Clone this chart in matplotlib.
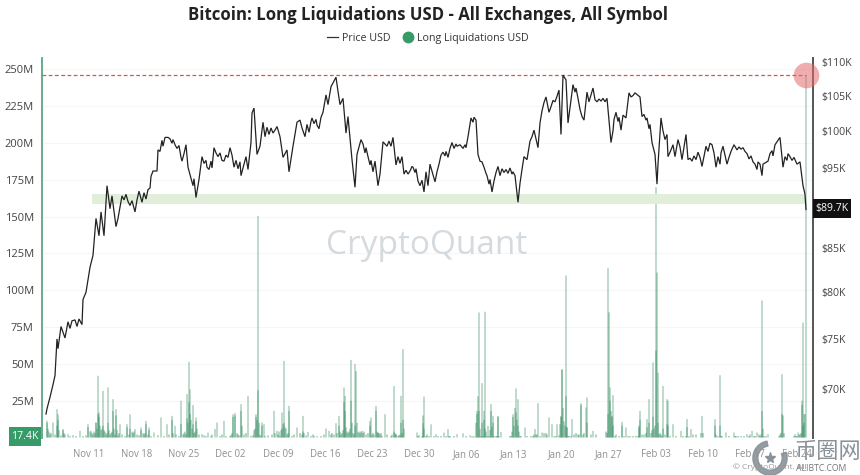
import datetime as dt
import matplotlib
matplotlib.use("Agg")
import matplotlib.pyplot as plt
import matplotlib.dates as mdates
from matplotlib.lines import Line2D
from matplotlib.patches import Wedge, Rectangle
from matplotlib.ticker import FuncFormatter

FIG_W, FIG_H = 860, 475
START = dt.datetime(2024, 11, 4, 15)
STEP_DAYS = 1 / 6.745          # one sample on the time index, in days

# ---- data: price (thousand USD) on the time index ----
price_t = [0,1,4,7,9,11,12,15,19,22,24,29,36,37,40,44,47,50,53,55,58,61,64,66,70,72,76,82,89,93,96,102,107,111,112,119,122,129,136,140,
142,147,150,153,156,161,163,168,172,178,184,188,194,195,200,202,205,206,208,211,214,217,219,229,231,234,237,241,243,247,251,254,259,266,271,277,280,282,285,290,
294,297,300,302,306,309,311,315,322,327,329,332,334,337,341,347,350,356,358,367,372,378,380,382,384,389,397,402,406,411,414,417,422,425,430,432,436,441,446,452,
454,467,469,472,476,478,481,486,488,492,494,500,503,509,513,515,517,520,522,527,532,538,541,543,547,549,561,565,570,575,577,580,583,589,594,596,601,606,609,611,
612,615,619,621,622,627,629,632,636,640,642,646,652,656,660,666,670,677,681,688,691,699,709,714,716,717,722,729,734,737,739,744,751,754,757,759,760]
price_k = [67.6,68.1,69.2,70.4,71.3,75.0,74.0,76.3,75.1,76.8,76.1,77.0,76.5,79.2,80.0,82.8,84.2,88.6,86.5,89.4,86.5,92.7,89.8,91.4,87.6,88.6,91.4,90.7,89.4,92.0,90.6,92.2,94.6,94.6,97.4,99.1,99.1,98.1,95.9,98.1,
95.1,92.7,91.2,93.5,96.5,95.1,94.8,97.7,96.5,95.9,97.7,95.1,95.8,94.0,96.5,94.8,98.4,102.5,103.2,96.8,97.9,101.2,99.2,100.1,100.6,99.2,96.4,97.4,94.5,97.9,101.2,101.5,99.2,101.8,100.8,102.6,105.1,103.7,106.3,107.7,
103.7,104.6,99.7,102.0,96.1,92.5,96.8,98.8,96.5,94.5,95.9,92.7,94.2,98.5,97.9,99.1,95.4,96.5,94.2,95.1,93.3,91.9,94.5,92.7,95.5,93.2,97.1,96.4,98.4,97.9,98.1,97.6,99.2,101.8,101.5,96.8,95.8,94.0,91.9,95.2,
94.0,94.5,94.0,90.6,94.8,96.5,96.1,99.2,100.1,97.7,101.1,104.8,102.6,104.1,105.8,99.5,108.0,107.3,101.1,106.6,104.6,101.5,105.5,104.1,106.1,104.4,104.6,98.4,102.6,100.1,102.2,101.8,105.4,105.4,104.8,102.0,101.8,98.4,96.8,92.9,
95.5,101.8,98.8,99.5,96.5,98.1,96.5,98.8,96.1,99.5,96.1,95.9,97.1,95.2,97.9,98.1,95.1,97.9,95.5,98.1,97.4,97.2,95.5,95.5,94.0,95.5,95.9,98.1,99.1,95.1,96.5,96.5,95.5,95.8,92.7,91.6,89.7]

# smaller swings read between the points above
swing_t = [26,31,33,78,80,84,86,91,98,100,104,105,114,116,117,124,126,127,131,133,135,138,148,158,160,165,166,170,174,176,180,182,186,190,192,
221,223,225,227,256,261,263,265,268,270,273,275,292,317,319,320,324,325,343,345,352,354,360,362,364,366,369,370,374,376,391,393,395,399,400,404,408,410,419,420,427,428,434,438,440,443,444,448,450,
456,458,460,462,464,466,474,483,484,490,496,498,505,507,511,529,530,534,536,551,553,555,557,559,567,568,572,573,585,587,598,600,603,604,617,625,634,644,648,650,654,662,664,668,672,674,675,679,683,685,
693,695,697,701,703,705,707,711,712,724,726,727,741,742,746,748]
swing_k = [76.9,76.3,77.1,90.9,91.6,90.2,90.8,90.9,91.8,91.0,92.4,93.9,97.2,98.7,97.9,98.9,98.3,98.8,97.6,98.0,96.4,96.9,93.6,95.6,96.0,95.9,95.0,97.0,97.0,96.0,96.7,96.4,96.7,96.0,94.9,
100.5,99.5,100.4,99.7,100.4,100.9,99.8,101.3,101.0,101.6,100.3,101.9,105.6,98.2,97.0,97.7,95.4,96.0,98.6,97.9,96.5,95.6,94.7,94.2,94.6,95.2,94.4,94.9,92.7,93.4,94.5,95.5,96.7,96.6,97.2,97.6,97.6,98.2,98.1,97.7,101.2,101.9,95.9,95.1,94.3,92.9,93.5,93.3,94.4,
94.9,94.4,94.8,94.3,95.0,94.2,93.0,97.7,98.6,98.9,102.8,104.0,103.4,104.3,104.9,105.5,106.1,103.0,102.0,104.1,104.5,104.2,104.6,104.1,100.0,101.6,101.3,101.9,104.8,105.0,102.3,101.5,100.3,100.9,100.0,97.4,97.8,96.3,96.6,96.1,96.4,97.2,98.3,97.0,96.5,95.5,97.0,96.7,96.4,97.2,
97.8,97.5,97.7,96.9,96.2,96.6,95.8,94.8,95.8,96.9,97.3,96.6,96.0,96.9,96.0,96.4]

# ---- data: long liquidations (million USD) ----
liq_t = [1,7,11,12,17,22,34,42,45,50,52,53,57,62,67,70,74,81,84,89,95,100,103,108,115,121,126,129,135,141,143,144,147,150,156,162,169,171,178,184,
187,189,195,202,210,212,216,218,228,231,236,238,243,251,257,262,271,280,283,290,293,298,299,305,309,312,316,324,325,330,332,339,348,355,357,371,377,378,385,390,
398,402,411,417,424,431,433,436,438,439,442,445,447,452,455,467,470,472,479,489,492,496,503,506,511,515,516,520,521,526,535,540,541,547,562,564,566,567,576,580,
593,594,601,603,607,610,612,617,621,622,627,635,641,645,656,669,674,680,688,701,706,711,716,722,736,749,752,756,757,758,760]
liq_m = [11.3,10.2,19.2,15.8,5.7,2.3,4.5,9,4.5,10.2,41.9,17,31.7,34,26,19.2,9,9,15.8,5.7,6.8,11.3,6.8,3.4,13.6,9,14.7,7.9,25,29.4,51.4,32.8,22,13.6,2.3,3.4,5.7,10.2,11.3,1.1,
15.8,16.5,22.6,28.3,15.8,150.4,10.2,9,18.1,4.5,17,52,21.5,6.8,14.7,3.8,1.1,6.1,4.5,9.7,14.7,34,28.3,52.7,49.8,3.4,4.5,11.3,13.6,21.5,3.4,15.8,35,28.3,60,3.4,9.7,27.8,9,2.3,
3.4,5.7,2.3,2.9,1.6,18.1,84.9,36.9,18.1,85.4,7.9,22.6,14.7,14.7,3.8,15.8,33.3,26,6.8,5.7,23.3,3.4,13.6,9,9,14.7,46.4,110,6.8,12.5,23.3,20.4,27.2,4.5,115,34,14.7,28.8,10.6,6.8,
6.8,18.1,12.5,26,51,170,44,35,26,25,9,4.5,12.5,5.7,14.7,12.5,42.3,3.4,3.4,2.3,4.5,3.4,93,2.3,43,2.3,3.4,25,78,15.8,246]

# darker, denser part of the same bars
core_t = [1,2,3,11,12,13,17,18,42,44,48,50,51,52,53,54,55,56,57,58,62,63,66,67,68,70,71,81,84,86,95,97,100,103,126,135,139,141,142,143,144,145,146,147,150,151,187,189,195,196,
208,209,210,211,212,213,216,233,235,236,237,238,239,240,243,257,258,293,294,297,298,299,300,304,305,306,309,310,311,313,324,330,331,332,348,349,350,355,357,358,377,378,
430,431,432,433,434,436,438,439,440,444,445,446,447,452,466,467,468,469,470,471,472,473,514,515,516,517,518,519,520,521,535,541,562,563,564,565,566,567,576,
593,594,601,603,606,607,608,609,610,611,612,617,621,622,641,669,674,716,717,736,737,756,757,758,759]
core_m = [10,6,4,8,12,5,5,3,7,4,4,10,6,16,14,8,5,6,8,5,10,5,4,18,6,15,5,7,6,4,5,3,9,5,12,9,4,13,10,24,16,12,6,9,11,6,14,15,18,8,
5,6,14,12,32,10,8,4,5,6,9,10,7,6,18,4,3,8,4,5,24,18,7,6,25,10,8,45,10,4,8,18,4,3,4,3,2,10,12,6,15,6,
10,16,28,18,6,10,12,6,4,5,18,7,10,14,4,14,8,20,17,12,8,4,9,14,46,20,11,8,28,7,22,10,16,85,25,18,14,8,8,
8,12,7,10,5,14,6,8,59,112,10,6,9,8,7,8,8,18,6,16,15,22,8,10,16]

# low fringe of very small bars along the baseline
low_t = [4,5,9,15,19,24,27,30,37,40,46,47,49,59,60,61,64,65,69,72,73,76,79,83,87,88,91,93,98,99,102,105,112,118,123,127,130,133,137,138,140,148,149,153,158,160,165,166,174,176,180,185,186,191,192,193,
198,200,205,207,214,215,219,222,226,229,232,234,241,242,246,248,254,256,260,265,267,268,275,278,285,286,288,291,295,296,301,302,303,307,308,314,315,317,318,320,322,326,327,328,333,334,335,336,341,345,346,350,352,353,
354,356,372,373,376,380,381,383,388,392,395,400,403,404,408,420,426,428,435,437,441,443,448,450,451,453,464,465,474,475,481,485,487,488,490,491,494,498,500,501,508,510,513,522,523,525,528,530,532,533,537,538,545,550,
560,561,569,570,573,578,582,584,587,590,592,596,598,600,605,613,614,615,616,619,624,630,637,640,643,647,650,655,657,670,672,675,676,683,689,690,692,695,698,703,704,708,709,713,714,715,718,720,733,734,735,738,748,750,751,753,754,755]
low_m = [2,3,2,1.5,2,1,1.5,1,1,1.5,3,2,3,4,2,3,2,3,2,1.5,3,2,1,2,3,4,2,1.5,2,3,2,1,1.5,1,2,3,2,1,2,3,2,3,4,2,1.5,1,1,2,1,2,1,1.5,3,3,2,1.5,
2,3,1,1.5,2,1,1,1.5,2,3,2,1,2,3,1,2,3,2,1.5,1,2,1,1,2,2,3,2,3,2,3,4,3,4,3,2,3,4,3,4,2,3,2,3,2,3,2,3,1,2,1,2,2,1,1.5,
2,3,1,1.5,1,1,2,1,1,1,1,1,1,1,1,1,1,1,1,1,1,1,1,1,1,1,1,1,1,1,1,1,1,2,2,2,1,3,3,2,1,1,1.5,1,1,1,2,3,2,2,2,3,2,2,
4,3,1,2,1,1,1,1,1,1,1,2,2,3,3,2,3,2,1,2,1,1,1,1,1,2,2,3,3,2,1,1,1,1,1,1,1,1,1,1,2,1,1,2,1,2,1,1,1,2,3,3,1,1,1,2,2,3]

left_ticks = [25, 50, 75, 100, 125, 150, 175, 200, 225, 250]
right_ticks = [70, 75, 80, 85, 95, 100, 105, 110]
tick_dates = [dt.datetime(2024, 11, 11) + dt.timedelta(days=7 * i) for i in range(16)]
last_price = "$89.7K"
last_liq = "17.4K"
resistance = 108.0
support_band = (90.4, 91.6)
title = "Bitcoin: Long Liquidations USD - All Exchanges, All Symbol"


def to_date(t):
    return mdates.date2num(START + dt.timedelta(days=t * STEP_DAYS))


price_pts = sorted(list(zip(price_t, price_k)) + list(zip(swing_t, swing_k)))

plt.rcParams["font.family"] = ["Open Sans", "Noto Sans CJK SC", "DejaVu Sans"]
fig = plt.figure(figsize=(FIG_W / 100, FIG_H / 100), dpi=100, facecolor="white")
L, R, T, B = 41.5, 813.5, 58, 438
ax = fig.add_axes([L / FIG_W, 1 - B / FIG_H, (R - L) / FIG_W, (B - T) / FIG_H])
ax.set_xlim(to_date(-4.5), to_date(767.5))
ax.set_ylim(-0.35, 257.7)
ax.patch.set_visible(False)

bar_kw = dict(width=0.14, color="#2b875b", linewidth=0, zorder=2)
for c in ax.bar([to_date(t) for t in low_t], low_m, alpha=0.75, **bar_kw):
    c.set_snap(False)
for c in ax.bar([to_date(t) for t in liq_t], liq_m, alpha=0.62, **bar_kw):
    c.set_snap(False)
for c in ax.bar([to_date(t) for t in core_t], core_m, alpha=0.7, **bar_kw):
    c.set_snap(False)

ax.set_yticks(left_ticks)
ax.yaxis.set_major_formatter(FuncFormatter(lambda v, _: f"{int(v)}M"))
ax.tick_params(axis="y", length=0, labelsize=8.0, labelcolor="#444444", pad=5.5)
ax.set_xticks([mdates.date2num(d) for d in tick_dates])
ax.set_xticklabels([d.strftime("%b %d") for d in tick_dates])
ax.tick_params(axis="x", length=0, labelsize=6.9, labelcolor="#909090", pad=8)
ax.grid(axis="y", color="#f6f6f6", linewidth=0.8, zorder=0)
ax.set_axisbelow(True)
for s in ("top", "right", "bottom"):
    ax.spines[s].set_visible(False)
ax.spines["left"].set_color("#5da583")
ax.spines["left"].set_linewidth(1.3)

ax2 = ax.twinx()
ax2.set_yscale("log")
ax2.set_ylim(65.4, 110.6)
ax2.patch.set_visible(False)
ax2.fill_between([to_date(46), to_date(760)], support_band[0], support_band[1],
                 color="#e1eeda", linewidth=0, zorder=1)
ax2.plot([to_date(-4), to_date(760)], [resistance, resistance], color="#d9534f",
         linestyle=(0, (3, 2)), linewidth=0.9, zorder=3)
ax2.plot([to_date(t) for t, _ in price_pts], [p for _, p in price_pts], color="#222222", linewidth=0.9,
         solid_joinstyle="miter", zorder=4)
ax2.scatter([to_date(760)], [resistance], s=340, color="#e36a6a", alpha=0.55, linewidth=0, zorder=5, clip_on=False)
ax2.set_yticks(right_ticks)
ax2.set_yticks([], minor=True)
ax2.yaxis.set_major_formatter(FuncFormatter(lambda v, _: f"${int(v)}K"))
ax2.tick_params(axis="y", length=0, labelsize=7.6, labelcolor="#444444", pad=6)
for s in ("top", "left", "bottom"):
    ax2.spines[s].set_visible(False)
ax2.spines["right"].set_color("#555555")
ax2.spines["right"].set_linewidth(1.4)

# value tags on both axes
fig.add_artist(Rectangle((9 / FIG_W, 1 - 446 / FIG_H), 32 / FIG_W, 19 / FIG_H, transform=fig.transFigure,
                         fc="#379a69", ec="none"))
fig.text(25 / FIG_W, 1 - 436.5 / FIG_H, last_liq, ha="center", va="center", fontsize=7.6, color="white")
fig.add_artist(Rectangle((813 / FIG_W, 1 - 218 / FIG_H), 38 / FIG_W, 19 / FIG_H, transform=fig.transFigure,
                         fc="#111111", ec="none"))
fig.text(832 / FIG_W, 1 - 208.5 / FIG_H, last_price, ha="center", va="center", fontsize=7.6, color="white")

# title, legend, watermarks
fig.text(428 / FIG_W, 1 - 15 / FIG_H, title, ha="center", va="center", fontsize=12.1, fontweight="bold", color="#222222")
handles = [Line2D([], [], color="#333333", linewidth=0.9),
           Line2D([], [], color="#379a69", marker="o", markersize=7.5, linestyle="none")]
fig.legend(handles, ["Price USD", "Long Liquidations USD"], loc="center", ncol=2, frameon=False,
           bbox_to_anchor=(428 / FIG_W, 1 - 38.5 / FIG_H), fontsize=7.7, labelcolor="#333333",
           handlelength=1.0, handletextpad=0.4, columnspacing=1.1)
fig.text(427 / FIG_W, 1 - 246 / FIG_H, "CryptoQuant", ha="center", va="center", fontsize=24,
         color="#d5dade", zorder=0.5)
fig.text(770 / FIG_W, 1 - 467 / FIG_H, "© CryptoQuant. All", ha="center", va="center", fontsize=6, color="#999999")
fig.text(821 / FIG_W, 1 - 468.5 / FIG_H, "ALIBTC.COM", ha="center", va="center", fontsize=6.2, color="#777777")
fig.text(828 / FIG_W, 1 - 451 / FIG_H, "币圈网", ha="center", va="center", fontsize=16,
         color="#8a9299", family=["Noto Sans CJK SC", "DejaVu Sans"])
logo = fig.add_axes([751 / FIG_W, 1 - 477 / FIG_H, 38 / FIG_W, 38 / FIG_H])
logo.set_xlim(-1, 1); logo.set_ylim(-1, 1); logo.axis("off")
logo.add_patch(Wedge((0, 0), 0.9, 100, 20, width=0.26, color="#8a9299", alpha=0.9))
logo.plot([0], [0], marker="*", markersize=8, color="#8a9299")

fig.savefig("out.png", dpi=100)
